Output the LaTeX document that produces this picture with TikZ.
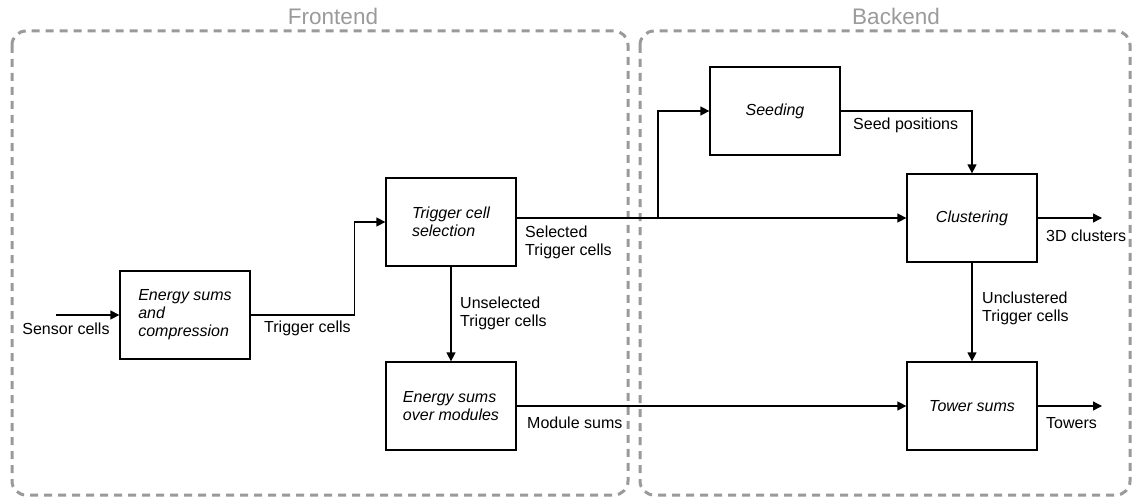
\documentclass[tikz,border=0pt]{standalone}
\usepackage{fontspec}
\setmainfont{Liberation Sans}
\usepackage{tikz}
\usepackage{xcolor}
\usetikzlibrary{positioning,arrows.meta,calc}
\definecolor{framegray}{HTML}{9A9A9A}

\tikzset{
  block/.style={draw, line width=1.3pt, minimum width=130pt, minimum height=88pt, inner sep=0pt, align=left, font=\fontsize{16}{18}\selectfont\itshape},
  lbl/.style={inner sep=0pt, align=left, font=\fontsize{16}{18}\selectfont},
  flow/.style={line width=1.3pt, -{Triangle[length=9pt,width=9pt]}},
  stage/.style={draw=framegray, line width=3pt, dash pattern=on 8pt off 6pt, rounded corners=14pt},
  stagetitle/.style={text=framegray, inner sep=0pt, font=\fontsize{22.5}{24}\selectfont},
}

\begin{document}
\begin{tikzpicture}[x=1pt, y=-1pt]
  \useasboundingbox (0,0) rectangle (1134,500);

  % frontend / backend frames
  \draw[stage] (12,31) rectangle (628,495);
  \draw[stage] (640,31) rectangle (1130,495);
  \node[stagetitle] (fetitle) at (333,16) {Frontend};
  \node[stagetitle] (betitle) at (896,16) {Backend};

  % processing blocks
  \node[block] (esc) at (185,315) {Energy sums\\and\\compression};
  \node[block] (tcs) at (451,222) {Trigger cell\\selection};
  \node[block] (esm) at (451,406) {Energy sums\\over modules};
  \node[block] (seed) at (775,111) {Seeding};
  \node[block] (clus) at (972,218) {Clustering};
  \node[block] (tower) at (972,406) {Tower sums};

  \coordinate (sensorin) at (56,315);
  \coordinate (branch) at (658,218);
  \coordinate (clusout) at (1102,218);
  \coordinate (towerout) at (1102,406);

  % data flow
  \draw[flow] (sensorin) -- (esc);
  \draw[flow] (esc.east) -- ++(104,0) |- (tcs.west);
  \draw[flow] (tcs.east |- clus.west) -- (clus.west);
  \draw[flow] (branch) |- (seed.west);
  \draw[flow] (seed.east) -| (clus.north);
  \draw[flow] (tcs.south) -- (esm.north);
  \draw[flow] (esm.east) -- (tower.west);
  \draw[flow] (clus.south) -- (tower.north);
  \draw[flow] (clus.east) -- (clusout);
  \draw[flow] (tower.east) -- (towerout);

  % labels on the connectors
  \node[lbl] (lsensor) at (66,329) {Sensor cells};
  \node[lbl, anchor=west] (ltrig) at (264,328) {Trigger cells};
  \node[lbl, anchor=north west] (lsel) at (525,226) {Selected\\Trigger cells};
  \node[lbl, anchor=north west] (lunsel) at (460,297) {Unselected\\Trigger cells};
  \node[lbl, anchor=west] (lmod) at (527,423) {Module sums};
  \node[lbl, anchor=west] (lseed) at (853,125) {Seed positions};
  \node[lbl, anchor=north west] (lunclus) at (982,292) {Unclustered\\Trigger cells};
  \node[lbl, anchor=west] (l3d) at (1046,236) {3D clusters};
  \node[lbl, anchor=west] (ltow) at (1046,423) {Towers};
\end{tikzpicture}
\end{document}
